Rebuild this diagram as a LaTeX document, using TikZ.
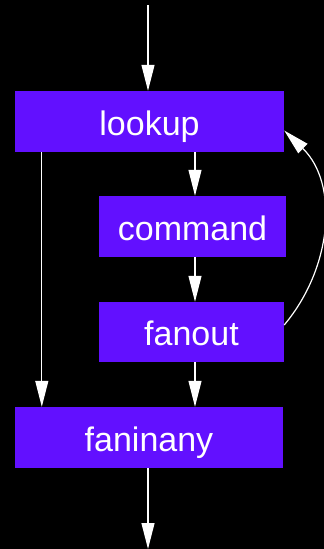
\documentclass[tikz,border=0pt]{standalone}
\usepackage{fontspec}
\setmainfont{Liberation Sans}
\usetikzlibrary{arrows.meta}
\definecolor{Bg}{HTML}{000000}
\definecolor{Violet}{HTML}{6210FF}
\definecolor{Wire}{HTML}{FFFFFF}

\tikzset{
  stage/.style={fill=Violet,inner sep=0pt,text height=32pt,text depth=5pt,
    font=\fontsize{34}{39}\selectfont\color{white}},
  flow/.style={-{Triangle[length=26pt,width=13pt]},line width=1.2pt,Wire}
}

\begin{document}
\begin{tikzpicture}[x=1pt,y=-1pt]
  \fill[Bg] (0,0) rectangle (324,549);
  \useasboundingbox (0,0) rectangle (324,549);

  \node[stage,minimum width=269pt,minimum height=61pt] (lookup) at (149.5,121.5) {lookup};
  \node[stage,minimum width=187pt,minimum height=61pt] (command) at (192.5,226.5) {command};
  \node[stage,minimum width=185pt,minimum height=60pt] (fanout) at (191.5,332) {fanout};
  \node[stage,minimum width=268pt,minimum height=61pt] (faninany) at (149,437.5) {faninany};

  \coordinate (in) at (148,5);
  \coordinate (out) at (148,549);

  \draw[flow] (in) -- (in |- lookup.north);
  \draw[flow] ([xshift=2.5pt]lookup.south -| command.north) -- ([xshift=2.5pt]command.north);
  \draw[flow] ([xshift=2.5pt]command.south) -- ([xshift=3.5pt]fanout.north);
  \draw[flow] ([xshift=3.5pt]fanout.south) -- ([xshift=3.5pt]fanout.south |- faninany.north);
  \draw[flow] ([xshift=27pt]lookup.south west) -- ([xshift=27pt]lookup.south west |- faninany.north);
  \draw[flow] ([yshift=7pt]fanout.east) to[out=50,in=-44,looseness=1] ([yshift=-9pt]lookup.east);
  \draw[flow] (faninany.south -| out) -- (out);
\end{tikzpicture}
\end{document}
